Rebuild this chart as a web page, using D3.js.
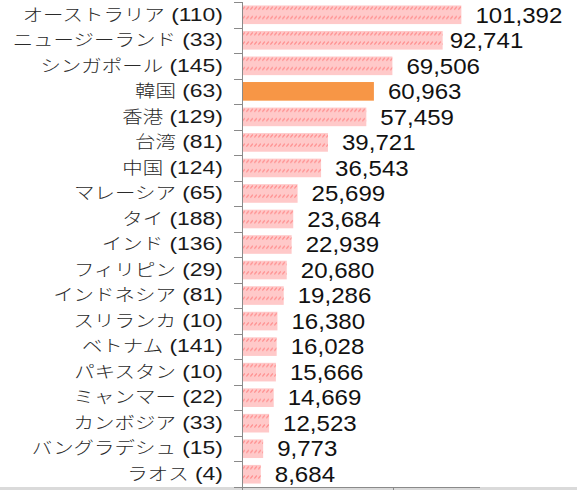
<!DOCTYPE html>
<html>
<head>
<meta charset="utf-8">
<script src="https://cdn.jsdelivr.net/npm/d3@7"></script>
<style>
    body { margin: 0; background: #fff; }
    svg { display: block; }
</style>
</head>
<body>
<div id="chart"></div>
<script>
// countries (number in brackets shown after name)
const names = ['オーストラリア', 'ニュージーランド', 'シンガポール', '韓国', '香港', '台湾', '中国',
    'マレーシア', 'タイ', 'インド', 'フィリピン', 'インドネシア', 'スリランカ', 'ベトナム',
    'パキスタン', 'ミャンマー', 'カンボジア', 'バングラデシュ', 'ラオス'];
const counts = [110, 33, 145, 63, 129, 81, 124, 65, 188, 136, 29, 81, 10, 141, 10, 22, 33, 15, 4];
const values = [101392, 92741, 69506, 60963, 57459, 39721, 36543, 25699, 23684, 22939,
    20680, 19286, 16380, 16028, 15666, 14669, 12523, 9773, 8684];
const xTicks = [0, 70000];
const highlight = '韓国';

const width = 577;
const height = 490;

const svg = d3.select('#chart')
    .append('svg')
        .attr('width', width)
        .attr('height', height);

// hatched pink fill
const pat = svg.append('defs')
    .append('pattern')
        .attr('id', 'hatch')
        .attr('patternUnits', 'userSpaceOnUse')
        .attr('width', 4)
        .attr('height', 9.3);
pat.append('rect')
    .attr('width', 4).attr('height', 9.3)
    .attr('fill', '#ffc9c9');
pat.append('line')
    .attr('x1', 0.4).attr('y1', 4.2)
    .attr('x2', 2.8).attr('y2', 1.4)
    .attr('stroke', '#ff8e8e')
    .attr('stroke-width', 1.2);

const x = d3.scaleLinear()
    .domain([0, 110000])
    .range([242, 480]);
const y = d3.scaleBand()
    .domain(names)
    .range([2, 487])
    .paddingInner(0.27)
    .paddingOuter(0.135);

// bottom grey strip
svg.append('rect')
    .attr('x', 0).attr('y', 487)
    .attr('width', width).attr('height', 3)
    .attr('fill', '#dadada');

// bars, each in its own group so the hatch lines up inside every bar
const bars = svg.append('g')
    .selectAll('g')
    .data(names)
    .join('g')
        .attr('transform', d => `translate(${x(0)},${y(d)})`);
bars.append('rect')
    .attr('width', (d, i) => x(values[i]) - x(0))
    .attr('height', y.bandwidth())
    .attr('fill', d => d === highlight ? '#f79646' : 'url(#hatch)');

// axes
const step = y.step();
const ya = svg.append('g').attr('stroke', '#8a8a8a').attr('stroke-width', 1);
ya.append('line')
    .attr('x1', x(0) + 0.5).attr('x2', x(0) + 0.5)
    .attr('y1', 2).attr('y2', 487);
ya.selectAll('.tk')
    .data(d3.range(names.length + 1))
    .join('line')
        .attr('class', 'tk')
        .attr('x1', x(0) - 8).attr('x2', x(0))
        .attr('y1', i => Math.round(2 + i * step) + 0.5)
        .attr('y2', i => Math.round(2 + i * step) + 0.5);

const xa = svg.append('g').attr('stroke', '#8a8a8a');
xa.append('line')
    .attr('x1', x(0) - 8).attr('x2', x.range()[1])
    .attr('y1', 487.5).attr('y2', 487.5);
xa.selectAll('.xt')
    .data(xTicks)
    .join('line')
        .attr('class', 'xt')
        .attr('x1', d => Math.round(x(d)) + 0.5).attr('x2', d => Math.round(x(d)) + 0.5)
        .attr('y1', 487).attr('y2', 490);

// category labels
const lab = svg.append('g')
    .selectAll('text')
    .data(names)
    .join('text')
        .attr('transform', d => `translate(223,${y(d) + y.bandwidth() / 2}) scale(1.24,1)`)
        .attr('dy', '0.36em')
        .attr('text-anchor', 'end')
        .attr('fill', '#1a1a1a');
lab.append('tspan')
    .attr('font-family', '"Noto Sans CJK JP", sans-serif')
    .attr('font-size', 16.5)
    .attr('font-weight', 300)
    .attr('fill', '#2a2a2a')
    .text(d => d);
lab.append('tspan')
    .attr('font-family', '"Liberation Sans", Arial, sans-serif')
    .attr('font-size', 18.5)
    .text((d, i) => ` (${counts[i]})`);

// value labels
const fmt = d3.format(',');
svg.append('g')
    .selectAll('text')
    .data(names)
    .join('text')
        .attr('transform', (d, i) => {
            const gap = d === 'ニュージーランド' ? 7 : 14;
            return `translate(${x(values[i]) + gap},${y(d) + y.bandwidth() / 2}) scale(1.12,1)`;
        })
        .attr('dy', '0.36em')
        .attr('font-family', '"Liberation Sans", Arial, sans-serif')
        .attr('font-size', 21.5)
        .attr('fill', '#111')
        .text((d, i) => fmt(values[i]));
</script>
</body>
</html>
